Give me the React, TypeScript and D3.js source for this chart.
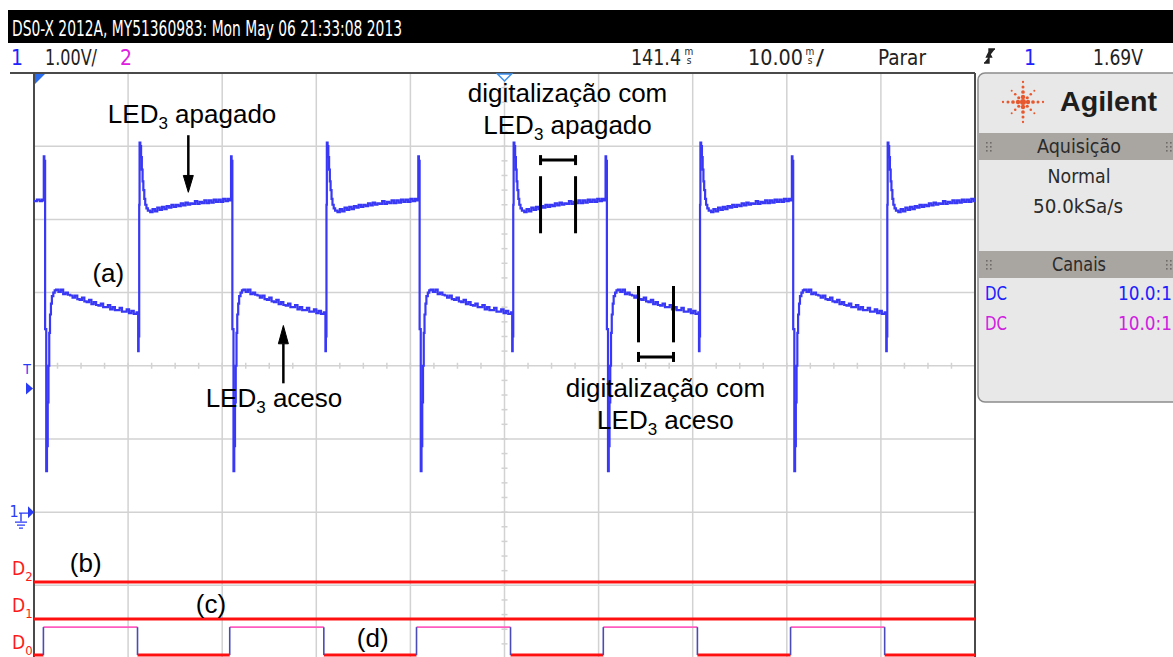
import React from "react";
import * as d3 from "d3";

// ---- data read from the scope capture (time in ms, volts for CH1) ----
const TIME_DOMAIN = [-50, 50];
const VOLT_DOMAIN = [-2, 6];
const TIME_GRID = [-50, -40, -30, -20, -10, 0, 10, 20, 30, 40, 50];
const VOLT_GRID = [-2, -1, 0, 1, 2, 3, 4, 5, 6];

// edges of the CH1 waveform (ms)
const CH1_FALL_MS = [-48.9, -29.0, -9.1, 10.8, 30.6];
const CH1_RISE_MS = [-38.9, -19.0, 0.85, 20.7, 40.6];

const CH1_LEAD_IN = [[-50, 4.25], [-49.7, 4.27], [-49.4, 4.25], [-49.15, 4.27]];

// shape after a falling edge (LED3 aceso)
const FALL_SHAPE = [
  [-0.12, 4.26], [-0.06, 4.86], [0.0, 4.8], [0.08, 2.5], [0.2, 0.56], [0.28, 0.9], [0.36, 1.5],
  [0.44, 2.0], [0.52, 2.45], [0.6, 2.7], [0.7, 2.85], [0.8, 2.95], [0.95, 3.0], [1.1, 3.03],
  [1.25, 3.04], [1.5, 3.01], [1.75, 3.04], [2.0, 2.98], [2.25, 3.0], [2.5, 2.97], [2.75, 2.96],
  [3.0, 2.93], [3.25, 2.96], [3.5, 2.91], [3.75, 2.9], [4.0, 2.93], [4.25, 2.88], [4.5, 2.87],
  [4.75, 2.9], [5.0, 2.84], [5.25, 2.87], [5.5, 2.83], [5.75, 2.82], [6.0, 2.85], [6.25, 2.8],
  [6.5, 2.8], [6.75, 2.83], [7.0, 2.77], [7.25, 2.8], [7.5, 2.76], [7.75, 2.76], [8.0, 2.79],
  [8.25, 2.74], [8.5, 2.74], [8.75, 2.77], [9.0, 2.72], [9.25, 2.75], [9.5, 2.71], [9.8, 2.73],
];

// shape after a rising edge (LED3 apagado)
const RISE_SHAPE = [
  [-0.08, 2.72], [-0.03, 2.2], [0.02, 2.4], [0.08, 4.2], [0.12, 5.05], [0.2, 5.0], [0.28, 4.85],
  [0.36, 4.68], [0.44, 4.52], [0.52, 4.4], [0.62, 4.28], [0.72, 4.2], [0.85, 4.15], [1.0, 4.12],
  [1.25, 4.1], [1.5, 4.14], [1.75, 4.11], [2.0, 4.16], [2.25, 4.13], [2.5, 4.17], [2.75, 4.14],
  [3.0, 4.18], [3.25, 4.16], [3.5, 4.2], [3.75, 4.17], [4.0, 4.2], [4.25, 4.18], [4.5, 4.22],
  [4.75, 4.19], [5.0, 4.23], [5.25, 4.2], [5.5, 4.22], [5.75, 4.21], [6.0, 4.25], [6.25, 4.21],
  [6.5, 4.24], [6.75, 4.22], [7.0, 4.26], [7.25, 4.22], [7.5, 4.26], [7.75, 4.23], [8.0, 4.27],
  [8.25, 4.24], [8.5, 4.27], [8.75, 4.24], [9.0, 4.28], [9.25, 4.25], [9.5, 4.28], [9.7, 4.26],
];

// digital channel D0 edges (ms)
const D0_RISE_MS = [-49.0, -29.2, -9.35, 10.5, 30.4];
const D0_FALL_MS = [-39.0, -19.2, 0.64, 20.5, 40.4];
const DIGITAL_LANES = ["D0", "D1", "D2"];

const HEADER_TITLE = "DS0-X 2012A, MY51360983: Mon May 06 21:33:08 2013";

const W = 1173, H = 657;
const plot = { left: 34, right: 975, top: 73, bottom: 658.5 };

const LABEL_FONT = "'Liberation Sans', Arial, Helvetica, sans-serif";
const SCOPE_FONT = "'Liberation Sans Narrow', 'DejaVu Sans Condensed', 'Liberation Sans', sans-serif";
const BLUE = "#3838f5";

// "LED" + subscript 3 + rest
const LedLabel = ({ x, y, rest }: { x: number; y: number; rest: string }) => (
  <text x={x} y={y} textAnchor="middle">
    LED<tspan dy={6} fontSize={17}>3</tspan>
    <tspan dy={-6}>{rest}</tspan>
  </text>
);

const App = () => {
  const x = d3.scaleLinear().domain(TIME_DOMAIN).range([plot.left, plot.right]);
  const y = d3.scaleLinear().domain(VOLT_DOMAIN).range([plot.bottom, plot.top]);
  const dy = d3.scaleLinear().domain([0, 3]).range([656, 545]); // digital lanes
  const HIGH = 0.78;

  // build CH1 series
  const ch1: number[][] = [...CH1_LEAD_IN];
  CH1_FALL_MS.forEach((f, i) => {
    FALL_SHAPE.forEach(([dt, v]) => ch1.push([f + dt, v]));
    const r = CH1_RISE_MS[i];
    RISE_SHAPE.forEach(([dt, v]) => ch1.push([r + dt, v]));
  });
  const line = d3.line<number[]>().x((d) => x(d[0])).y((d) => y(d[1])).curve(d3.curveStepAfter);

  // D0 segments
  const d0Edges = [...D0_RISE_MS.map((t) => [t, 1]), ...D0_FALL_MS.map((t) => [t, 0])].sort((a, b) => a[0] - b[0]);
  const d0Segs: { t0: number; t1: number; lvl: number }[] = [];
  let prevT = TIME_DOMAIN[0], prevL = 0;
  d0Edges.forEach(([t, l]) => {
    d0Segs.push({ t0: prevT, t1: t, lvl: prevL });
    prevT = t; prevL = l;
  });
  d0Segs.push({ t0: prevT, t1: TIME_DOMAIN[1], lvl: prevL });

  const minorX = d3.range(-50, 50.01, 2.5);
  const minorY = d3.range(-2, 6.01, 0.2);

  // Agilent spark logo
  const spark: { cx: number; cy: number; r: number }[] = [];
  d3.range(8).forEach((k) => {
    const a = (k * Math.PI) / 4;
    const diag = k % 2 === 1;
    const steps = diag ? [6, 11, 16] : [5, 10, 15, 20];
    steps.forEach((s, j) => {
      spark.push({ cx: 1023 + Math.cos(a) * s, cy: 102 + Math.sin(a) * s, r: diag ? 1.6 - j * 0.3 : 2.2 - j * 0.35 });
    });
  });

  const grip = (gx: number, gy: number) =>
    d3.range(6).map((i) => (
      <rect key={`${gx}-${i}`} x={gx + (i % 2) * 4} y={gy + Math.floor(i / 2) * 4} width={1.6} height={1.6} fill="#6e6b68" />
    ));

  return (
    <svg width={W} height={H} style={{ position: "absolute", left: 0, top: 0, background: "#fff" }} fontFamily={LABEL_FONT}>
      <defs>
        <clipPath id="screen">
          <rect x={plot.left} y={plot.top} width={plot.right - plot.left} height={H - plot.top} />
        </clipPath>
      </defs>

      {/* header bar */}
      <rect x={8} y={10} width={W - 8} height={33} fill="#000" />
      <text x={12} y={36} fill="#fff" fontFamily={SCOPE_FONT} fontSize={22} textLength={390} lengthAdjust="spacingAndGlyphs">
        {HEADER_TITLE}
      </text>

      {/* status row */}
      <g fontFamily={SCOPE_FONT} fontSize={21} fill="#222">
        <text x={17} y={65} fill="#2222ff" textAnchor="middle">1</text>
        <text x={45} y={65} textLength={52} lengthAdjust="spacingAndGlyphs">1.00V/</text>
        <text x={126} y={65} fill="#e020e0" textAnchor="middle">2</text>
        <text x={631} y={65} textLength={50} lengthAdjust="spacingAndGlyphs">141.4</text>
        <text x={689} y={55} fontSize={10} textAnchor="middle">m</text>
        <text x={689} y={64} fontSize={10} textAnchor="middle">s</text>
        <text x={748} y={65} textLength={55} lengthAdjust="spacingAndGlyphs">10.00</text>
        <text x={810} y={55} fontSize={10} textAnchor="middle">m</text>
        <text x={810} y={64} fontSize={10} textAnchor="middle">s</text>
        <text x={816} y={65} textLength={8} lengthAdjust="spacingAndGlyphs">/</text>
        <text x={878} y={65} textLength={48} lengthAdjust="spacingAndGlyphs">Parar</text>
        <path d="M984,63 H989 V49 H995 M986.5,57 L989,52 L991.5,57 Z" stroke="#222" strokeWidth={1.4} fill="#222" />
        <text x={1030} y={65} fill="#2222ff" textAnchor="middle">1</text>
        <text x={1093} y={65} textLength={50} lengthAdjust="spacingAndGlyphs">1.69V</text>
      </g>

      {/* grid */}
      <g stroke="#d2d2d2" strokeWidth={1.5}>
        {TIME_GRID.map((t) => (
          <line key={`gx${t}`} x1={x(t)} x2={x(t)} y1={plot.top} y2={H} />
        ))}
        {VOLT_GRID.map((v) => (
          <line key={`gy${v}`} x1={plot.left} x2={plot.right} y1={y(v)} y2={y(v)} />
        ))}
        {minorX.map((t) => (
          <line key={`mx${t}`} x1={x(t)} x2={x(t)} y1={y(2) - 3} y2={y(2) + 3} />
        ))}
        {minorY.map((v) => (
          <line key={`my${v}`} x1={x(0) - 3} x2={x(0) + 3} y1={y(v)} y2={y(v)} />
        ))}
      </g>

      {/* screen borders */}
      <line x1={10} x2={plot.right} y1={plot.top} y2={plot.top} stroke="#4a4a4a" strokeWidth={2} />
      <line x1={plot.left} x2={plot.left} y1={plot.top} y2={H} stroke="#4a4a4a" strokeWidth={2} />
      <line x1={plot.right} x2={plot.right} y1={plot.top} y2={H} stroke="#4a4a4a" strokeWidth={2} />
      <path d={`M${plot.left + 1},${plot.top + 1} h10 L${plot.left + 1},${plot.top + 11} Z`} fill="#2a6cf0" />
      <path d={`M${x(0) - 7},${plot.top + 1} h14 L${x(0)},${plot.top + 8} Z`} fill="#fff" stroke="#3c90f0" strokeWidth={1.5} />

      {/* CH1 trace */}
      <g clipPath="url(#screen)">
        <path d={line(ch1) || ""} fill="none" stroke={BLUE} strokeWidth={2.2} />
      </g>

      {/* digital channels */}
      <g clipPath="url(#screen)">
        {DIGITAL_LANES.slice(1).map((name) => {
          const lane = DIGITAL_LANES.indexOf(name);
          return <line key={name} x1={plot.left} x2={plot.right} y1={dy(lane)} y2={dy(lane)} stroke="#ff1010" strokeWidth={3} />;
        })}
        {d0Segs.map((s, i) =>
          s.lvl === 1 ? (
            <line key={`d0${i}`} x1={x(s.t0)} x2={x(s.t1)} y1={dy(HIGH)} y2={dy(HIGH)} stroke="#ff5cc0" strokeWidth={1.6} />
          ) : (
            <line key={`d0${i}`} x1={x(s.t0)} x2={x(s.t1)} y1={dy(0) - 1} y2={dy(0) - 1} stroke="#ff1010" strokeWidth={3} />
          )
        )}
        {d0Edges.map(([t], i) => (
          <line key={`d0e${i}`} x1={x(t)} x2={x(t)} y1={dy(HIGH)} y2={dy(0) - 1} stroke="#4a4ab8" strokeWidth={1.6} />
        ))}
      </g>
      <g fill="#ff1a1a" fontFamily={SCOPE_FONT}>
        {DIGITAL_LANES.map((name, lane) => (
          <text key={name} x={12} y={dy(lane) - 7} fontSize={19}>
            D<tspan dy={6} fontSize={13}>{name.slice(1)}</tspan>
          </text>
        ))}
      </g>

      {/* channel markers */}
      <g fill="#2a3cf5" stroke="none">
        <text x={27} y={374} fontSize={14} textAnchor="middle" fontFamily={SCOPE_FONT}>T</text>
        <path d={`M26,${y(1.69) - 6} L33,${y(1.69)} L26,${y(1.69) + 6} Z`} />
        <text x={14} y={517} fontSize={16} textAnchor="middle" fontFamily={SCOPE_FONT}>1</text>
        <path d={`M28,${y(0) - 6} L34,${y(0)} L28,${y(0) + 6} Z`} />
        <path d={`M19,${y(0) + 1} H28 M21,${y(0) + 1} V${y(0) + 9} M15,${y(0) + 10} H27 M17,${y(0) + 13} H25 M19,${y(0) + 16} H23`} stroke="#2a3cf5" strokeWidth={1.4} fill="none" />
      </g>

      {/* annotations */}
      <g fill="#000" fontSize={26}>
        <LedLabel x={x(-33.2)} y={y(5.31)} rest=" apagado" />
        <text x={x(-42.1)} y={y(3.14)} textAnchor="middle">(a)</text>
        <LedLabel x={x(-24.5)} y={y(1.43)} rest=" aceso" />
        <text x={x(6.7)} y={y(5.6)} textAnchor="middle">digitalização com</text>
        <LedLabel x={x(6.7)} y={y(5.16)} rest=" apagado" />
        <text x={x(17.1)} y={y(1.57)} textAnchor="middle">digitalização com</text>
        <LedLabel x={x(17.1)} y={y(1.13)} rest=" aceso" />
        <text x={x(-44.5)} y={dy(2.27)} textAnchor="middle">(b)</text>
        <text x={x(-31.2)} y={dy(1.16)} textAnchor="middle">(c)</text>
        <text x={x(-14.0)} y={dy(0.24)} textAnchor="middle">(d)</text>
      </g>
      <g stroke="#000" strokeWidth={2.5} fill="#000">
        {/* arrows */}
        <line x1={x(-33.6)} x2={x(-33.6)} y1={y(5.15)} y2={y(4.6)} />
        <path d={`M${x(-33.6) - 5},${y(4.6)} L${x(-33.6) + 5},${y(4.6)} L${x(-33.6)},${y(4.37)} Z`} strokeWidth={1} />
        <line x1={x(-23.5)} x2={x(-23.5)} y1={y(1.76)} y2={y(2.3)} />
        <path d={`M${x(-23.5) - 5},${y(2.3)} L${x(-23.5) + 5},${y(2.3)} L${x(-23.5)},${y(2.55)} Z`} strokeWidth={1} />
        {/* sampling windows */}
        <g strokeWidth={3} fill="none">
          <line x1={x(3.83)} x2={x(3.83)} y1={y(4.59)} y2={y(3.81)} />
          <line x1={x(7.55)} x2={x(7.55)} y1={y(4.59)} y2={y(3.81)} />
          <line x1={x(3.83)} x2={x(7.55)} y1={y(4.81)} y2={y(4.81)} />
          <line x1={x(3.83)} x2={x(3.83)} y1={y(4.81) - 5} y2={y(4.81) + 5} />
          <line x1={x(7.55)} x2={x(7.55)} y1={y(4.81) - 5} y2={y(4.81) + 5} />
          <line x1={x(14.24)} x2={x(14.24)} y1={y(3.09)} y2={y(2.32)} />
          <line x1={x(17.96)} x2={x(17.96)} y1={y(3.09)} y2={y(2.32)} />
          <line x1={x(14.24)} x2={x(17.96)} y1={y(2.12)} y2={y(2.12)} />
          <line x1={x(14.24)} x2={x(14.24)} y1={y(2.12) - 5} y2={y(2.12) + 5} />
          <line x1={x(17.96)} x2={x(17.96)} y1={y(2.12) - 5} y2={y(2.12) + 5} />
        </g>
      </g>

      {/* side panel */}
      <rect x={978} y={73} width={215} height={329} rx={7} fill="#e8e8e8" stroke="#8c8c8c" strokeWidth={1.5} />
      {spark.map((d, i) => (
        <circle key={`sp${i}`} cx={d.cx} cy={d.cy} r={Math.max(d.r, 0.8)} fill="#e8582e" />
      ))}
      <circle cx={1023} cy={102} r={3} fill="#e8582e" />
      <text x={1060} y={111} fontSize={27} fontWeight="bold" fill="#1e1e1e" textLength={97} lengthAdjust="spacingAndGlyphs">Agilent</text>
      <rect x={979} y={133} width={200} height={27} fill="#a9a5a1" />
      <rect x={979} y={251} width={200} height={27} fill="#a9a5a1" />
      {grip(986, 142)}
      {grip(1166, 142)}
      {grip(986, 260)}
      {grip(1166, 260)}
      <g fontFamily={SCOPE_FONT} fontSize={19} fill="#2b2b2b" textAnchor="middle">
        <text x={1079} y={153} textLength={84} lengthAdjust="spacingAndGlyphs">Aquisição</text>
        <text x={1079} y={183} textLength={63} lengthAdjust="spacingAndGlyphs">Normal</text>
        <text x={1078} y={213} textLength={90} lengthAdjust="spacingAndGlyphs">50.0kSa/s</text>
        <text x={1079} y={271} textLength={54} lengthAdjust="spacingAndGlyphs">Canais</text>
      </g>
      <g fontFamily={SCOPE_FONT} fontSize={19}>
        <text x={985} y={300} fill="#2020ff" textLength={22} lengthAdjust="spacingAndGlyphs">DC</text>
        <text x={1118} y={300} fill="#2020ff" textLength={54} lengthAdjust="spacingAndGlyphs">10.0:1</text>
        <text x={985} y={330} fill="#d020e0" textLength={22} lengthAdjust="spacingAndGlyphs">DC</text>
        <text x={1118} y={330} fill="#d020e0" textLength={54} lengthAdjust="spacingAndGlyphs">10.0:1</text>
      </g>
    </svg>
  );
};

export default App;
